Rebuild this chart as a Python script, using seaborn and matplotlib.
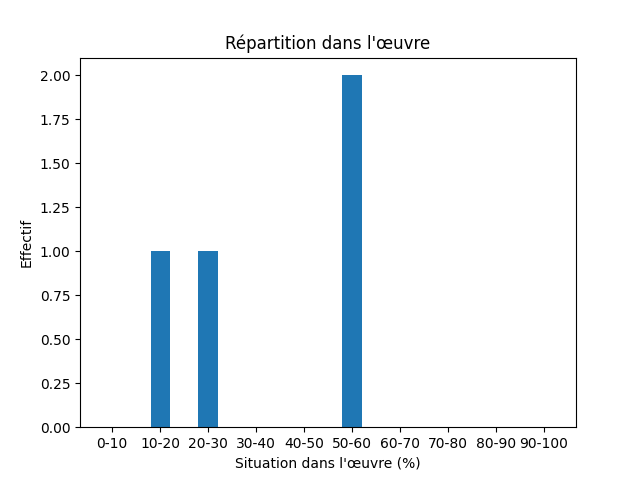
import matplotlib
matplotlib.use("Agg")
import matplotlib.pyplot as plt
import seaborn as sns
import pandas as pd

categories = ["0-10", "10-20", "20-30", "30-40", "40-50", "50-60", "60-70", "70-80", "80-90", "90-100"]
counts = [0, 1, 1, 0, 0, 2, 0, 0, 0, 0]

df = pd.DataFrame({"cat": categories, "n": counts})
fig, ax = plt.subplots(figsize=(6.4, 4.8), dpi=100)
sns.barplot(data=df, x="cat", y="n", order=categories, color="#1f77b4", saturation=1, width=0.4, ax=ax)
ax.set_xlim(-0.67, 9.67)
ax.set_ylim(0, 2.1)
ax.set_yticks([0, 0.25, 0.5, 0.75, 1.0, 1.25, 1.5, 1.75, 2.0])
ax.set_yticklabels([f"{v:.2f}" for v in [0, 0.25, 0.5, 0.75, 1.0, 1.25, 1.5, 1.75, 2.0]])
ax.set_title("Répartition dans l'œuvre")
ax.set_xlabel("Situation dans l'œuvre (%)")
ax.set_ylabel("Effectif")
fig.savefig("out.png", dpi=100)
